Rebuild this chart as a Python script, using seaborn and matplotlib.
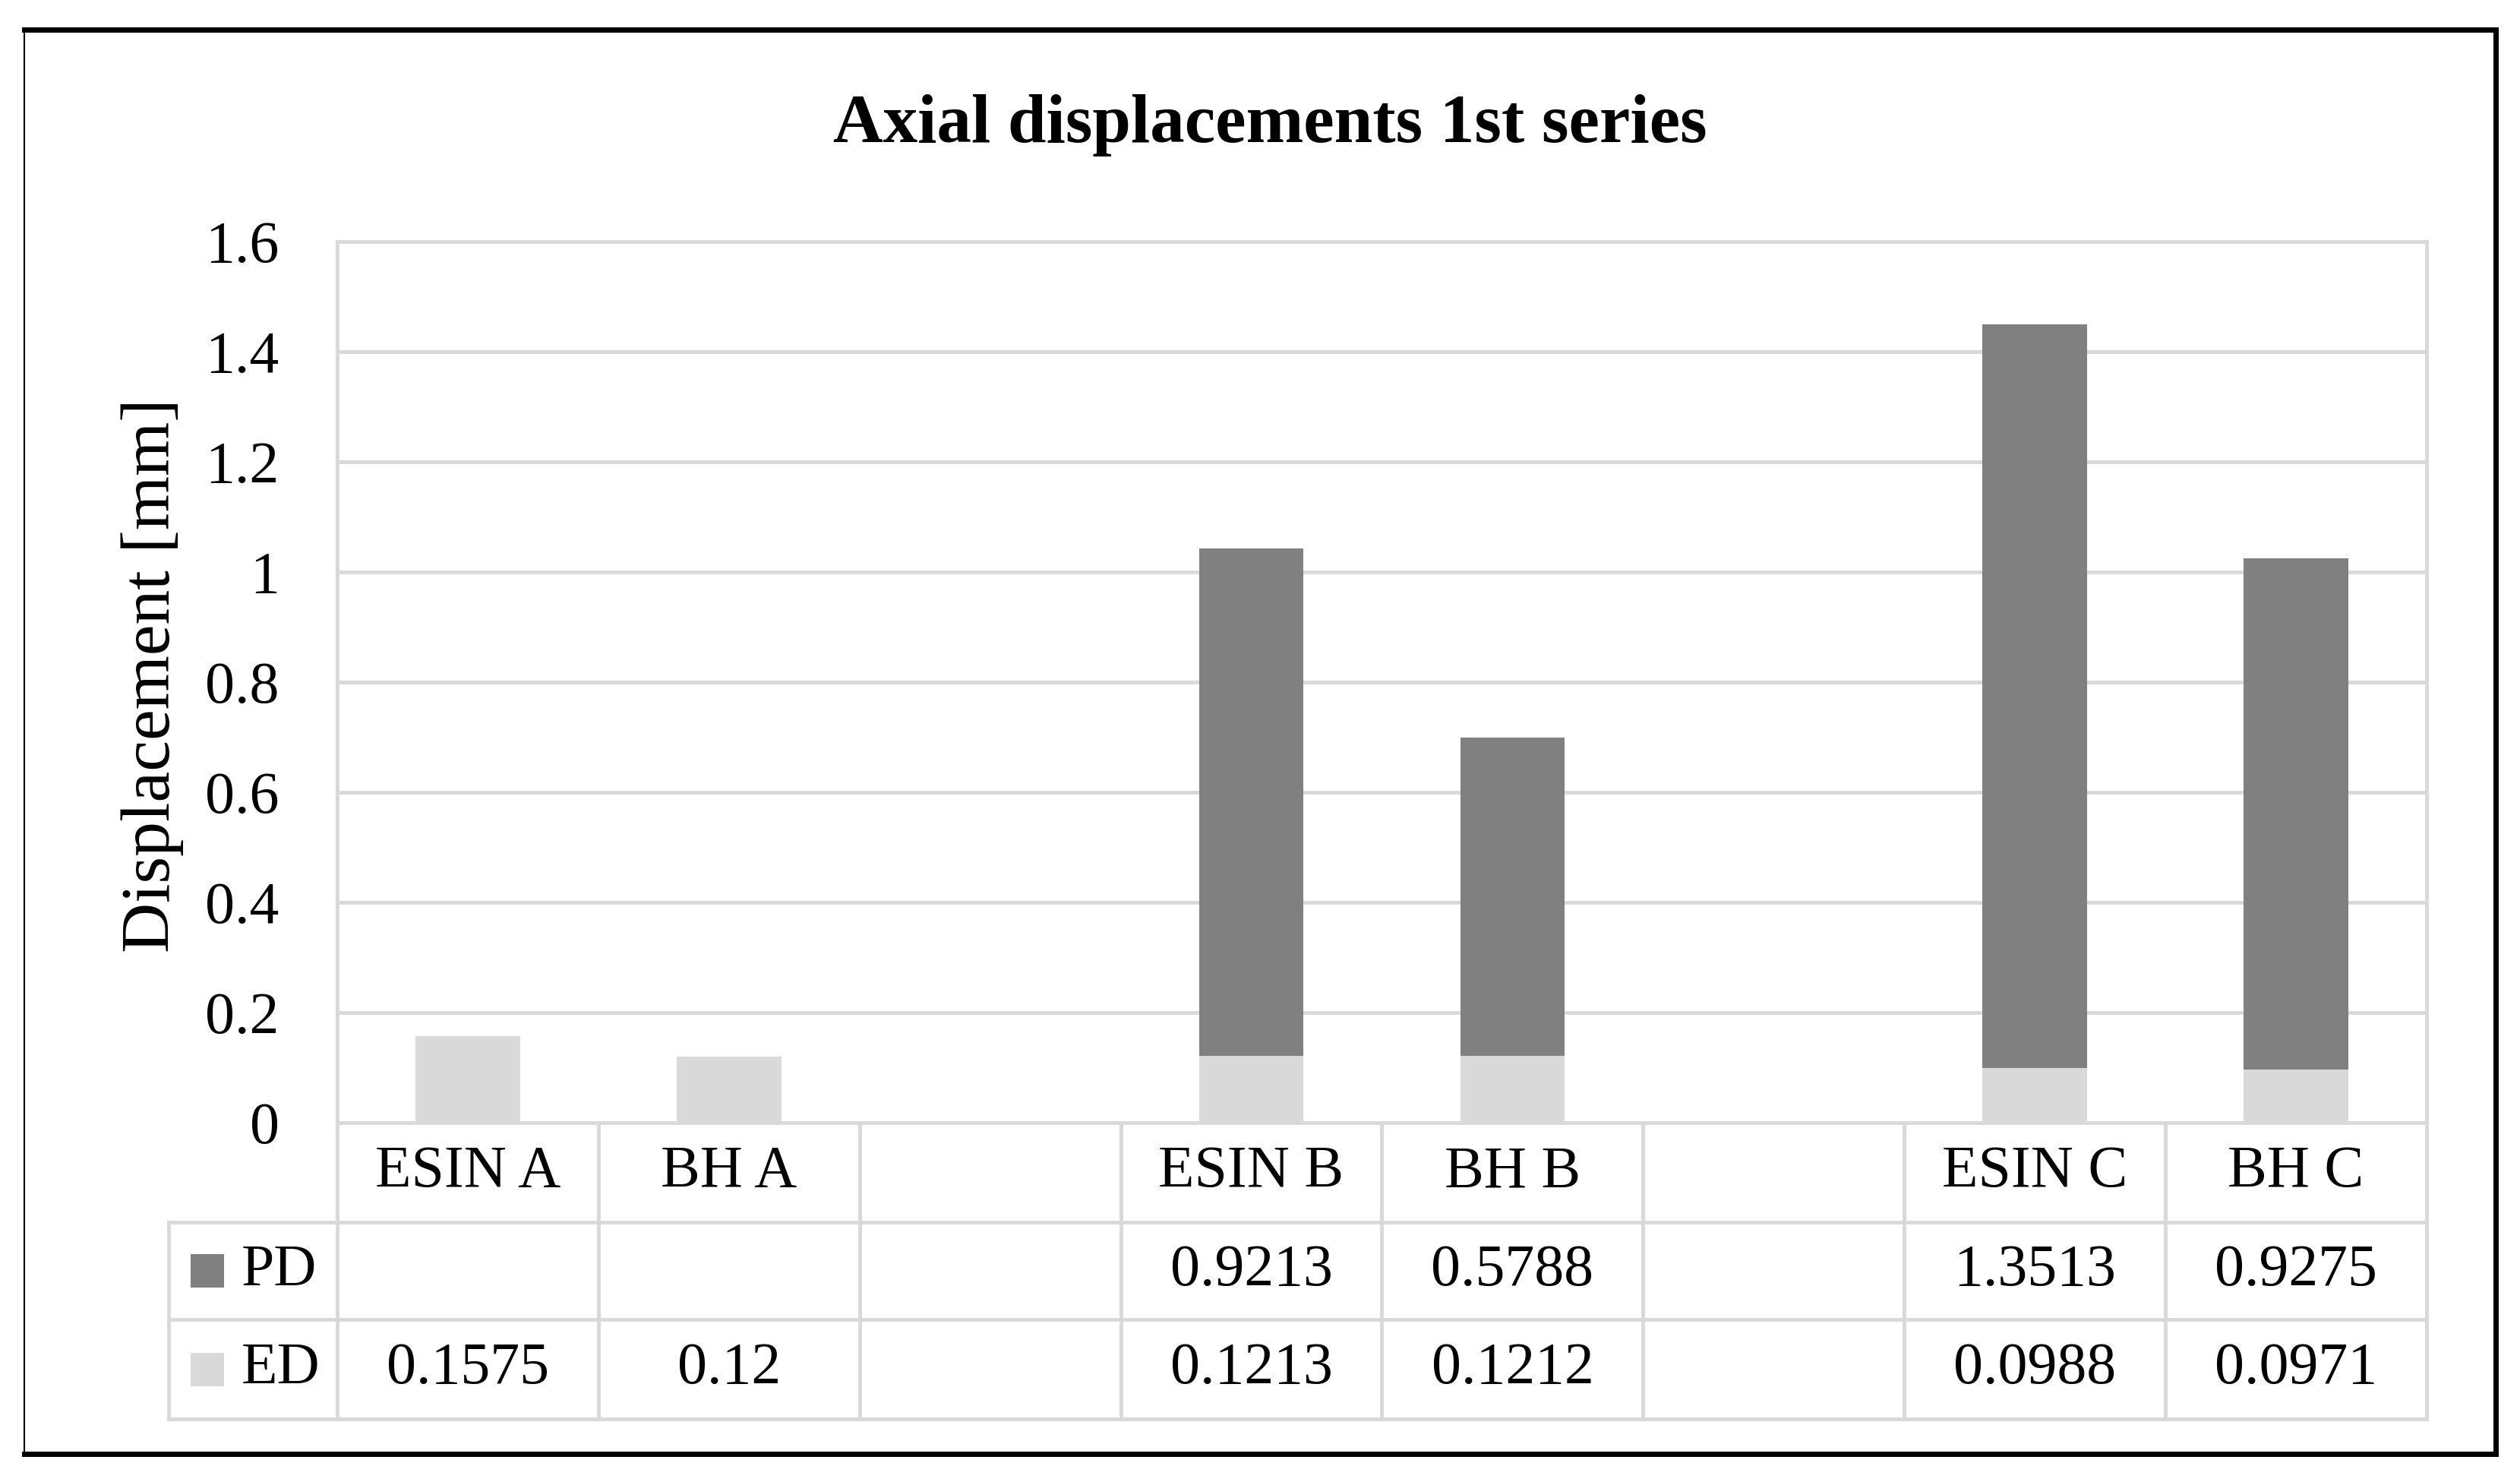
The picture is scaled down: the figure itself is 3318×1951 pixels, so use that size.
import numpy as np
import pandas as pd
import seaborn as sns
import matplotlib
matplotlib.use("Agg")
import matplotlib.pyplot as plt
from matplotlib.lines import Line2D
from matplotlib.patches import Rectangle
import matplotlib.transforms as mtransforms

# ---- data ----
categories = ["ESIN A", "BH A", "", "ESIN B", "BH B", " ", "ESIN C", "BH C"]
ed_values = [0.1575, 0.12, np.nan, 0.1213, 0.1212, np.nan, 0.0988, 0.0971]
pd_values = [np.nan, np.nan, np.nan, 0.9213, 0.5788, np.nan, 1.3513, 0.9275]
series_names = ["PD", "ED"]
y_ticks = [0, 0.2, 0.4, 0.6, 0.8, 1.0, 1.2, 1.4, 1.6]
y_tick_labels = ["0", "0.2", "0.4", "0.6", "0.8", "1", "1.2", "1.4", "1.6"]
title = "Axial displacements 1st series"
ylabel = "Displacement [mm]"

PD_COLOR = "#808080"
ED_COLOR = "#d9d9d9"
GRID = "#d9d9d9"

sns.set_theme(style="white")
plt.rcParams["font.family"] = ["Liberation Serif", "DejaVu Serif"]
plt.rcParams["text.color"] = "black"
plt.rcParams["axes.labelcolor"] = "black"
plt.rcParams["xtick.color"] = "black"
plt.rcParams["ytick.color"] = "black"

W, H = 3318, 1951
fig = plt.figure(figsize=(W / 100, H / 100), dpi=100)

# pixel geometry
L, R, T, B = 444, 3195, 318, 1478
ax = fig.add_axes([L / W, 1 - B / H, (R - L) / W, (B - T) / H])

df = pd.DataFrame({
    "cat": categories,
    "ED": np.nan_to_num(ed_values),
    "PD": np.nan_to_num(pd_values),
})
df["total"] = df["ED"] + df["PD"]

sns.barplot(data=df, x="cat", y="total", order=categories, color=PD_COLOR,
            saturation=1, width=0.4, errorbar=None, linewidth=0, ax=ax, zorder=3)
sns.barplot(data=df, x="cat", y="ED", order=categories, color=ED_COLOR,
            saturation=1, width=0.4, errorbar=None, linewidth=0, ax=ax, zorder=3)

ax.set_xlim(-0.5, len(categories) - 0.5)
ax.set_ylim(0, 1.6)
ax.set_yticks(y_ticks)
ax.set_yticklabels(y_tick_labels, fontsize=56, color="black")
ax.tick_params(axis="y", length=0, pad=55)
ax.set_xticks([])
ax.set_xlabel("")
ax.set_ylabel(ylabel, fontsize=66, va="center", color="black")
ax.yaxis.set_label_coords((201 - L) / (R - L), 0.5 - (889 - (T + B) / 2) / (B - T))
for s in ax.spines.values():
    s.set_visible(False)
ax.yaxis.grid(True, color=GRID, linewidth=3.5, zorder=0)
ax.set_axisbelow(True)

# ---- data table below the plot ----
trans = mtransforms.blended_transform_factory(ax.transData, ax.transAxes)
n = len(categories)
def ya(px):
    return (B - px) / (B - T)
col_w = (R - L) / n
x_leg = -0.5 + (222 - L) / col_w
rows_px = [B, 1609, 1737, 1868]
lw = 3.5
kw = dict(color=GRID, linewidth=lw, transform=trans, clip_on=False, zorder=1,
          solid_capstyle="projecting")
# horizontal lines
ax.add_line(Line2D([-0.5, n - 0.5], [ya(T), ya(T)], **kw))
ax.add_line(Line2D([-0.5, n - 0.5], [ya(B), ya(B)], **kw))
for rp in rows_px[1:]:
    ax.add_line(Line2D([x_leg, n - 0.5], [ya(rp), ya(rp)], **kw))
# vertical lines
ax.add_line(Line2D([-0.5, -0.5], [ya(T), ya(rows_px[-1])], **kw))
ax.add_line(Line2D([n - 0.5, n - 0.5], [ya(T), ya(rows_px[-1])], **kw))
ax.add_line(Line2D([x_leg, x_leg], [ya(rows_px[1]), ya(rows_px[-1])], **kw))
for k in range(1, n):
    ax.add_line(Line2D([k - 0.5, k - 0.5], [ya(B), ya(rows_px[-1])], **kw))

fs = 56
row_c = [(rows_px[i] + rows_px[i + 1]) / 2 for i in range(3)]
for i, c in enumerate(categories):
    ax.text(i, ya(row_c[0]), c, ha="center", va="center", fontsize=fs,
            transform=trans, clip_on=False, color="black")
for r, (name, vals, col) in enumerate([("PD", pd_values, PD_COLOR),
                                      ("ED", ed_values, ED_COLOR)]):
    yc = row_c[r + 1]
    for i, v in enumerate(vals):
        if not np.isnan(v):
            ax.text(i, ya(yc), f"{v:g}", ha="center", va="center", fontsize=fs,
                    transform=trans, clip_on=False, color="black")
    sq = 44
    fig.add_artist(Rectangle((251 / W, 1 - (yc + sq / 2) / H), sq / W, sq / H,
                             transform=fig.transFigure, facecolor=col,
                             edgecolor="none"))
    fig.text(318 / W, 1 - yc / H, name, ha="left", va="center", fontsize=fs,
             color="black")

# ---- title ----
fig.text(1672 / W, 1 - 165 / H, title, ha="center", va="center",
         fontsize=65.5, fontweight="bold", color="black")

# ---- outer frame ----
fl, ft, fr, fb = 32, 39, 3286, 1914
def fx(px): return px / W
def fy(px): return 1 - px / H
fig.add_artist(Line2D([fx(fl), fx(fl)], [fy(ft), fy(fb)], color="black", lw=1.5,
                      transform=fig.transFigure))
for xs, ys in [([fl, fr], [ft, ft]), ([fl, fr], [fb, fb]), ([fr, fr], [ft, fb])]:
    fig.add_artist(Line2D([fx(x) for x in xs], [fy(y) for y in ys], color="black",
                          lw=5, transform=fig.transFigure, solid_capstyle="projecting"))

fig.savefig("out.png", dpi=100, facecolor="white")
